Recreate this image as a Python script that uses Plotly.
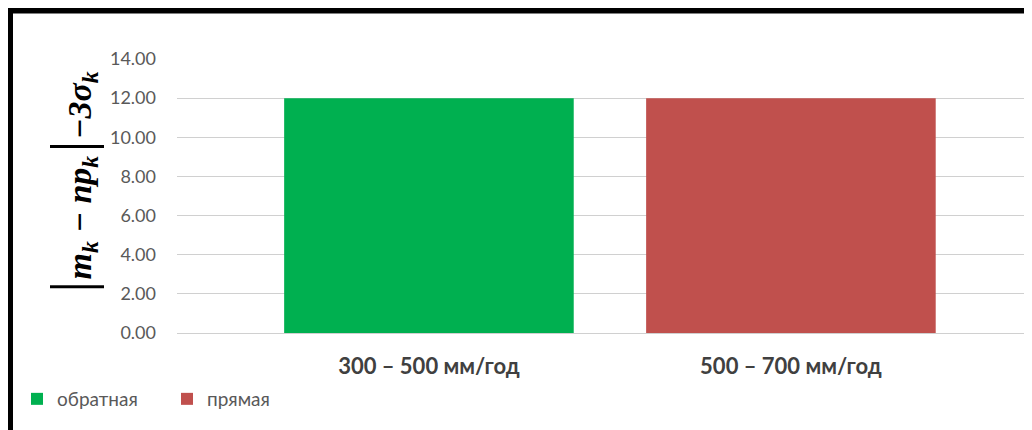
import plotly.graph_objects as go

categories = ["300 – 500 мм/год", "500 – 700 мм/год"]
series_names = ["обратная", "прямая"]
obratnaya = [12.0, None]
pryamaya = [None, 12.0]
y_ticks = [0, 2, 4, 6, 8, 10, 12, 14]
y_ticktext = ["0.00", "2.00", "4.00", "6.00", "8.00", "10.00", "12.00", "14.00"]

colors = ["#00B050", "#C0504D"]
grey = "#595959"

fig = go.Figure()
for name, vals, col in zip(series_names, [obratnaya, pryamaya], colors):
    fig.add_trace(go.Bar(
        x=categories, y=vals, name=name,
        marker=dict(color=col, line=dict(width=0)),
        width=0.8,
    ))

# page body has an 8px margin, so figure px = screenshot px - 8
OFF = 8
FW, FH = 1024, 422
L, T, B = 177 - OFF, 59 - OFF, 333 - OFF
W, H = FW - L, B - T


def px(x):
    return (x - OFF - L) / W


def py(y):
    return (B - (y - OFF)) / H


fig.update_layout(
    width=FW, height=FH,
    margin=dict(l=L, r=0, t=T, b=FH - B),
    barmode="overlay",
    plot_bgcolor="white", paper_bgcolor="white",
    font=dict(family="Lato, sans-serif", color=grey),
    xaxis=dict(
        type="category", range=[-0.696, 1.666],
        showgrid=False, zeroline=False,
        showline=True, linecolor="#D0D0D0", linewidth=1,
        ticks="", ticklabelstandoff=14,
        tickfont=dict(size=22, color="#404040", weight="bold"),
    ),
    yaxis=dict(
        range=[0, 14], tickvals=y_ticks, ticktext=y_ticktext,
        showgrid=True, gridcolor="#D0D0D0", gridwidth=1,
        zeroline=False, ticks="", ticklabelstandoff=20,
        tickfont=dict(size=18, color=grey),
    ),
    legend=dict(
        orientation="h", x=px(17), y=py(380), xanchor="left", yanchor="top",
        font=dict(size=19, color=grey), entrywidth=105, entrywidthmode="pixels",
        bgcolor="rgba(0,0,0,0)", itemclick=False,
    ),
    showlegend=True,
)

fig.add_annotation(
    xref="paper", yref="paper", x=px(71), y=py(184),
    xanchor="center", yanchor="middle",
    text=("<b><i><span style='font-weight:normal;font-size:60px'>|</span>m<sub>k</sub> − np<sub>k</sub>"
          "<span style='font-weight:normal;font-size:60px'>|</span>−3σ<sub>k</sub></i></b>"),
    textangle=-90, showarrow=False,
    font=dict(family="Liberation Serif, serif", size=34, color="black"),
)

# black frame (top and left edges of the screenshot)
fig.add_shape(type="line", xref="paper", yref="paper",
              x0=px(10), x1=px(1040), y0=py(10.5), y1=py(10.5),
              line=dict(color="black", width=6))
fig.add_shape(type="line", xref="paper", yref="paper",
              x0=px(10), x1=px(10), y0=py(8), y1=py(440),
              line=dict(color="black", width=6))

fig.write_html("out.html")
